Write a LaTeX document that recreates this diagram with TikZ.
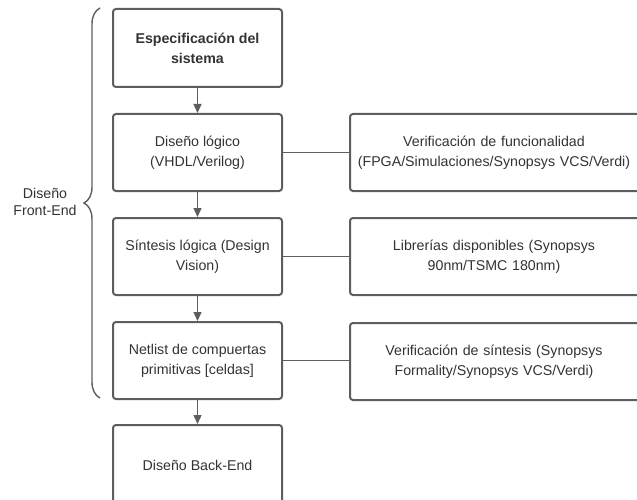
\documentclass[tikz,border=0pt]{standalone}
\usepackage{fontspec}
\setmainfont{Liberation Sans}
\usetikzlibrary{arrows.meta,decorations.pathreplacing}
\definecolor{edge}{HTML}{5E5E5E}
\definecolor{ink}{HTML}{333333}
\tikzset{
  box/.style={draw=edge, line width=2pt, rounded corners=3pt, fill=white,
    text=ink, align=center, inner sep=0pt,
    font=\fontsize{14.2}{20}\selectfont},
  flow/.style={draw=edge, line width=1.4pt, -{Triangle[length=9pt,width=8pt]}},
  link/.style={draw=edge, line width=1.2pt},
}
\begin{document}
\begin{tikzpicture}[x=1pt,y=-1pt]
\useasboundingbox (0,0) rectangle (637,500);
% main flow column
\node[box, minimum width=169pt, minimum height=78pt, anchor=north west] (spec) at (112,8)
  {\textbf{Especificación del}\\\textbf{sistema}};
\node[box, minimum width=169pt, minimum height=77pt, anchor=north west] (logic) at (112,113)
  {Diseño lógico\\(VHDL/Verilog)};
\node[box, minimum width=169pt, minimum height=77pt, anchor=north west] (synth) at (112,217)
  {Síntesis lógica (Design\\Vision)};
\node[box, minimum width=169pt, minimum height=77pt, anchor=north west] (net) at (112,321)
  {Netlist de compuertas\\primitivas [celdas]};
\node[box, minimum width=169pt, minimum height=80pt, anchor=north west] (back) at (112,424)
  {Diseño Back-End};
% verification column
\node[box, minimum width=300pt, minimum height=77pt, anchor=north west, text width=300pt] (ver) at (349,113)
  {\hspace*{-12pt}Verificación de funcionalidad\\\hspace*{-12pt}(FPGA/Simulaciones/Synopsys VCS/Verdi)};
\node[box, minimum width=300pt, minimum height=77pt, anchor=north west, text width=300pt] (lib) at (349,217)
  {\hspace*{-12pt}Librerías disponibles (Synopsys\\\hspace*{-12pt}90nm/TSMC 180nm)};
\node[box, minimum width=300pt, minimum height=77pt, anchor=north west, text width=300pt] (vsyn) at (349,322)
  {\hspace*{-12pt}Verificación de síntesis (Synopsys\\\hspace*{-12pt}Formality/Synopsys VCS/Verdi)};
% arrows
\draw[flow] (spec) -- (logic);
\draw[flow] (logic) -- (synth);
\draw[flow] (synth) -- (net);
\draw[flow] (net) -- (back);
% links
\draw[link] (logic.east) -- (logic.east -| ver.west);
\draw[link] (synth.east) -- (synth.east -| lib.west);
\draw[link] (net.east) -- (net.east -| vsyn.west);
% front-end brace
\coordinate (btop) at (100,8);
\coordinate (bbot) at (100,398);
\draw[edge, line width=1.4pt, decorate, decoration={brace, amplitude=16pt, aspect=0.5}]
  (bbot) -- (btop);
\node[text=ink, align=center, font=\fontsize{14.2}{17}\selectfont] (fe) at (45,202)
  {Diseño\\Front-End};
\end{tikzpicture}
\end{document}
